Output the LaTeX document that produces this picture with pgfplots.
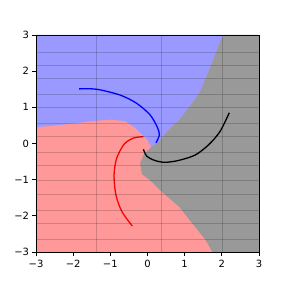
\documentclass[border=0pt]{standalone}
\usepackage{pgfplots}
\pgfplotsset{compat=1.18}
\usepackage{fontspec}
\setmainfont{DejaVu Sans}
\definecolor{regblue}{RGB}{153,153,255}
\definecolor{regred}{RGB}{255,153,153}
\definecolor{reggray}{RGB}{153,153,153}
\begin{document}
\begin{tikzpicture}
\begin{axis}[
  scale only axis, width=223bp, height=217bp,
  xmin=-3, xmax=3, ymin=-3, ymax=3,
  axis on top,
  xtick={-3,-2,-1,0,1,2,3}, xticklabels={−3,−2,−1,0,1,2,3},
  ytick={-3,-2,-1,0,1,2,3}, yticklabels={−3,−2,−1,0,1,2,3},
  tick align=outside, tick pos=left,
  major tick length=3.5bp,
  tick style={black, line width=0.8bp},
  axis line style={black, line width=0.8bp},
  ticklabel style={font=\fontsize{10}{12}\selectfont},
  xticklabel style={yshift=-1bp},
  extra y ticks={2.52,2.17,1.80,1.37,1.00,0.56,0.19,-0.24,-0.61,-1.03,-1.40,-1.84,-2.21,-2.64},
  extra y tick labels={},
  extra x ticks={-1.37,0.38,2.02},
  extra x tick labels={},
  extra tick style={grid=major, major tick length=0pt, major grid style={black, opacity=0.18, line width=0.6bp}},
]
% red background (whole area)
\addplot[draw=none, fill=regred] coordinates {(-3,-3) (3,-3) (3,3) (-3,3)} -- cycle;
% blue region
\addplot[draw=none, fill=regblue] coordinates {
  (-3,3) (2.05,3) (1.95,2.8) (1.8,2.4) (1.6,1.9) (1.4,1.4) (1.15,1.05) (0.85,0.65) (0.5,0.3) (0.3,0.05) (0.1,-0.1)
  (0.0,0.1) (-0.15,0.25) (-0.35,0.45) (-0.6,0.62) (-1.0,0.66) (-1.5,0.62) (-2.0,0.55) (-2.5,0.5) (-3,0.45)
} -- cycle;
% gray region
\addplot[draw=none, fill=reggray] coordinates {
  (0.1,-0.1) (0.3,0.05) (0.5,0.3) (0.85,0.65) (1.15,1.05) (1.4,1.4) (1.6,1.9) (1.8,2.4) (1.95,2.8) (2.05,3)
  (3,3) (3,-3) (1.75,-3) (1.55,-2.65) (1.2,-2.2) (0.85,-1.75) (0.4,-1.35) (0.05,-1.0) (-0.15,-0.85) (-0.2,-0.55) (-0.1,-0.3)
} -- cycle;
% curves
\addplot[blue, line width=1.3bp, smooth] coordinates {
  (-1.84,1.51) (-1.37,1.50) (-0.74,1.34) (-0.29,1.11) (0.07,0.79) (0.26,0.46) (0.32,0.24) (0.23,0.02)};
\addplot[red, line width=1.3bp, smooth] coordinates {
  (-0.11,0.19) (-0.38,0.15) (-0.63,-0.02) (-0.83,-0.41) (-0.90,-0.87) (-0.85,-1.42) (-0.69,-1.88) (-0.41,-2.28)};
\addplot[black, line width=1.3bp, smooth] coordinates {
  (-0.11,-0.16) (-0.02,-0.35) (0.2,-0.47) (0.47,-0.52) (0.83,-0.47) (1.28,-0.32) (1.64,-0.04) (1.95,0.33) (2.2,0.85)};
\end{axis}
\path[use as bounding box] ([shift={(-36bp,-36bp)}]current axis.south west) rectangle ([shift={(29bp,35bp)}]current axis.north east);
\end{tikzpicture}
\end{document}
